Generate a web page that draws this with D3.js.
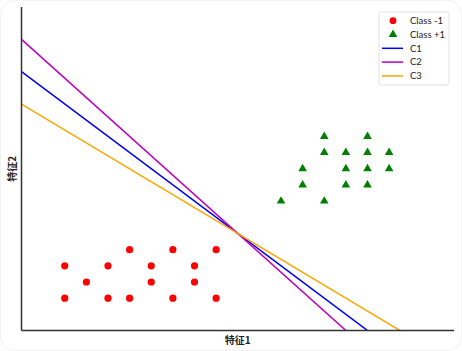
<!DOCTYPE html>
<html>
<head>
<meta charset="utf-8">
<script src="https://cdn.jsdelivr.net/npm/d3@7"></script>
<style>
  html, body { margin: 0; padding: 0; background: #fff; }
  svg { display: block; }
</style>
</head>
<body>
<div id="chart"></div>
<script>
const W = 462, H = 351;

// class -1 points
const negX = [1, 2, 2.5, 3.5, 4.5, 1.5, 3, 4, 1, 2, 3, 4, 2.5, 3.5, 4.5];
const negY = [1, 1, 1, 1, 1, 1.5, 1.5, 1.5, 2, 2, 2, 2, 2.5, 2.5, 2.5];
// class +1 points
const posX = [7, 8, 7, 7.5, 8, 8.5, 6.5, 7.5, 8, 8.5, 6.5, 7.5, 8, 6, 7];
const posY = [6, 6, 5.5, 5.5, 5.5, 5.5, 5, 5, 5, 5, 4.5, 4.5, 4.5, 4, 4];

// candidate lines: y = intercept + slope * x
const lineNames = ['C1', 'C2', 'C3'];
const intercepts = [8, 9, 7];
const slopes = [-1, -1.2, -0.8];
const lineColors = ['#0000ff', '#bf00bf', '#ffa500'];

const margin = {left: 21.5, right: 8, top: 7, bottom: 20.5};

const x = d3.scaleLinear().domain([0, 10]).range([margin.left, W - margin.right]);
const y = d3.scaleLinear().domain([0, 10]).range([H - margin.bottom, margin.top]);

const svg = d3.select('#chart').append('svg')
  .attr('width', W)
  .attr('height', H);

svg.append('rect')
  .attr('x', 0.5).attr('y', 0.5)
  .attr('width', W - 1).attr('height', H - 1)
  .attr('rx', 14)
  .attr('fill', '#fff')
  .attr('stroke', '#f2f2f2');

svg.append('clipPath').attr('id', 'plot-clip')
  .append('rect')
  .attr('x', x(0)).attr('y', y(10))
  .attr('width', x(10) - x(0)).attr('height', y(0) - y(10));

// lines
const lineGen = d3.line().x(d => x(d[0])).y(d => y(d[1]));
const lines = svg.append('g').attr('clip-path', 'url(#plot-clip)');
lineNames.forEach((n, i) => {
  const pts = [[0, intercepts[i]], [10, intercepts[i] + slopes[i] * 10]];
  lines.append('path')
    .attr('d', lineGen(pts))
    .attr('fill', 'none')
    .attr('stroke', lineColors[i])
    .attr('stroke-width', 1.5);
});

// points
svg.append('g').selectAll('circle')
  .data(negX.map((v, i) => [v, negY[i]]))
  .enter().append('circle')
  .attr('cx', d => x(d[0]))
  .attr('cy', d => y(d[1]))
  .attr('r', 3.6)
  .attr('fill', '#ff0000');

const tri = d3.symbol().type(d3.symbolTriangle).size(32);
svg.append('g').selectAll('path')
  .data(posX.map((v, i) => [v, posY[i]]))
  .enter().append('path')
  .attr('d', tri)
  .attr('transform', d => `translate(${x(d[0])},${y(d[1])})`)
  .attr('fill', '#008000');

// axes: spines only
const axisG = svg.append('g');
axisG.append('line')
  .attr('x1', x(0)).attr('x2', x(0))
  .attr('y1', y(10)).attr('y2', y(0))
  .attr('stroke', '#333').attr('stroke-width', 1.5);
axisG.append('line')
  .attr('x1', x(0)).attr('x2', x(10))
  .attr('y1', y(0)).attr('y2', y(0))
  .attr('stroke', '#333').attr('stroke-width', 1.5);

svg.append('text')
  .attr('x', (x(0) + x(10)) / 2)
  .attr('y', 344)
  .attr('text-anchor', 'middle')
  .attr('font-family', '"Noto Sans CJK SC", sans-serif')
  .attr('font-weight', 'bold')
  .attr('font-size', 10)
  .attr('fill', '#222')
  .text('特征1');

svg.append('text')
  .attr('transform', `translate(16,${(y(0) + y(10)) / 2}) rotate(-90)`)
  .attr('text-anchor', 'middle')
  .attr('font-family', '"Noto Sans CJK SC", sans-serif')
  .attr('font-weight', 'bold')
  .attr('font-size', 10)
  .attr('fill', '#222')
  .text('特征2');

// legend
const legend = svg.append('g').attr('transform', 'translate(379,12)');
legend.append('rect')
  .attr('width', 70).attr('height', 73)
  .attr('rx', 2.5)
  .attr('fill', '#fff')
  .attr('stroke', '#d9d9d9')
  .attr('stroke-width', 0.8);

const legendLabels = ['Class -1', 'Class +1'].concat(lineNames);
legendLabels.forEach((label, i) => {
  const ly = 8.7 + i * 13.8;
  const row = legend.append('g').attr('transform', `translate(0,${ly})`);
  if (i === 0) {
    row.append('circle').attr('cx', 14).attr('cy', 0).attr('r', 3.4).attr('fill', '#ff0000');
  } else if (i === 1) {
    row.append('path').attr('d', tri).attr('transform', 'translate(14,0)').attr('fill', '#008000');
  } else {
    row.append('line')
      .attr('x1', 3).attr('x2', 24)
      .attr('stroke', lineColors[i - 2])
      .attr('stroke-width', 1.5);
  }
  row.append('text')
    .attr('x', 31)
    .attr('y', 3.3)
    .attr('font-family', 'Lato, sans-serif')
    .attr('font-size', 9.5)
    .attr('fill', '#222')
    .text(label);
});
</script>
</body>
</html>
